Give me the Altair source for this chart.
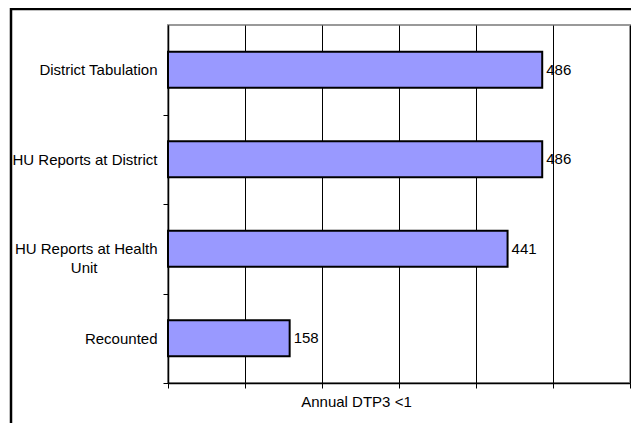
import altair as alt
import pandas as pd

categories = ["District Tabulation", "HU Reports at District",
              "HU Reports at Health|Unit\u2003\u2003\u2003\u2003\u200b", "Recounted"]
values = [486, 486, 441, 158]

df = pd.DataFrame({"category": categories, "value": values})
FONT = "Liberation Sans"

y_enc = alt.Y("category:N", sort=categories, title=None,
              scale=alt.Scale(paddingInner=0.6, paddingOuter=0.3),
              axis=alt.Axis(labelExpr="split(datum.label, '|')",
                            labelFont=FONT, labelFontSize=15, labelColor="black",
                            labelPadding=6, labelLimit=200,
                            tickOffset=44.75, labelOffset=-44.75,
                            tickSize=5, tickColor="black",
                            domainColor="black", domainWidth=1.5, grid=False,
                            labelLineHeight=19))
x_enc = alt.X("value:Q", title="Annual DTP3 <1",
              scale=alt.Scale(domain=[0, 600], nice=False),
              axis=alt.Axis(values=[0, 100, 200, 300, 400, 500, 600], labels=False,
                            tickSize=5, tickColor="black", domainColor="black",
                            domainWidth=1.5, grid=True, gridColor="black", gridWidth=1,
                            titleFont=FONT, titleFontSize=15, titleFontWeight="normal",
                            titleColor="black", titleX=188, titleY=23,
                            titleBaseline="alphabetic"))

bars = alt.Chart(df).mark_bar(color="#9999FF", stroke="black", strokeWidth=2).encode(
    x=x_enc, y=y_enc)

text = alt.Chart(df).mark_text(align="left", baseline="middle", dx=4, font=FONT,
                               fontSize=15, color="black").encode(
    x="value:Q", y=alt.Y("category:N", sort=categories), text="value:Q")

frame_df = pd.DataFrame({"k": [1]})
frame = alt.Chart(frame_df).mark_rect(filled=False, stroke="black", strokeWidth=2.5,
                                      clip=False).encode(
    x=alt.value(-157), x2=alt.value(700), y=alt.value(-16), y2=alt.value(500))

chart = alt.layer(bars, text, frame).properties(
    width=462, height=358,
    padding={"left": 160, "top": 17, "right": 1, "bottom": 40},
    autosize=alt.AutoSizeParams(type="none"),
    background="white",
).configure_view(stroke="#999999", strokeWidth=2)

chart.save("out.html", embed_options={"renderer": "svg", "actions": False})
